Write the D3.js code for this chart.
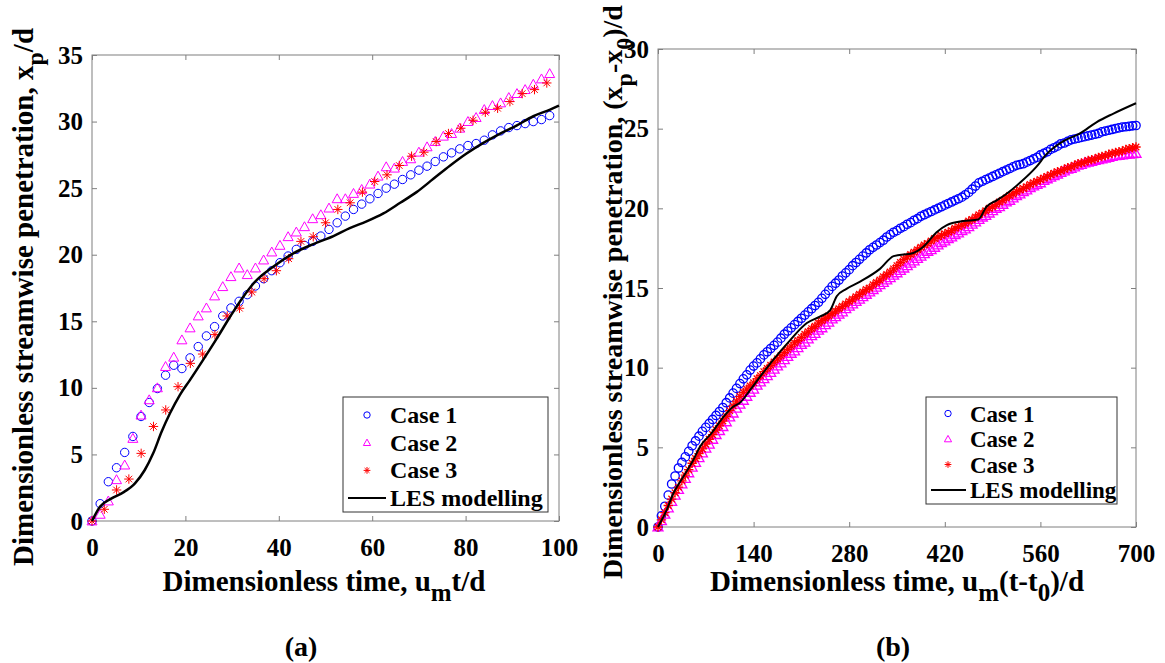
<!DOCTYPE html>
<html>
<head>
<meta charset="utf-8">
<script src="https://cdn.jsdelivr.net/npm/d3@7"></script>
<style>
  body { margin: 0; background: #fff; }
</style>
</head>
<body>
<svg id="fig" width="1165" height="663"></svg>
<script>
// ---- panel (a) data ----
const ticksXa = [0, 20, 40, 60, 80, 100];
const ticksYa = [0, 5, 10, 15, 20, 25, 30, 35];

// sampling times of the measured cases (every ~1.75 for case 1/2, ~2.63 for case 3)
const timeCase12a = d3.range(0, 98.1, 1.75);
const timeCase3a = d3.range(0, 97.5, 2.632);

const case1a = [0, 1.3, 2.95, 4.0, 5.15, 6.35, 7.85, 8.9, 9.95, 10.95, 11.7, 11.45, 12.25, 13.1, 13.9,
  14.6, 15.4, 16.0, 16.5, 17.0, 17.65, 18.2, 18.8, 19.4, 19.9, 20.4, 20.7, 21.0, 21.4, 21.9,
  22.4, 22.9, 23.4, 23.8, 24.2, 24.6, 25.0, 25.3, 25.65, 26.0, 26.35, 26.65, 27.0, 27.35, 27.65,
  27.95, 28.2, 28.35, 28.6, 29.0, 29.3, 29.55, 29.7, 29.85, 30.0, 30.15, 30.45];
const case2a = [0, 0.5, 1.5, 3.1, 4.2, 6.2, 7.95, 9.1, 10.0, 11.6, 12.3, 13.6, 14.5, 15.4, 16.0,
  16.9, 17.6, 18.35, 19.0, 18.5, 19.0, 19.6, 20.2, 20.7, 21.35, 21.7, 22.1, 22.7, 23.0, 23.5,
  24.2, 24.2, 24.6, 24.9, 25.3, 25.9, 26.6, 26.5, 27.0, 27.2, 27.7, 28.1, 28.5, 28.9, 29.1,
  29.5, 30.0, 30.3, 30.9, 31.2, 31.4, 31.8, 32.1, 32.4, 32.8, 33.2, 33.6];
const case3a = [0, 0.88, 2.33, 3.15, 5.08, 7.1, 8.34, 10.09, 11.84, 12.54, 14.0, 15.4, 15.98, 17.2,
  18.2, 18.8, 19.7, 21.0, 21.35, 22.4, 23.4, 23.9, 24.7, 25.5, 26.0, 26.7, 27.4, 27.7, 28.5,
  29.1, 29.5, 30.1, 30.7, 31.0, 31.5, 32.1, 32.4, 32.9];
const lesTimeA = [0, 1.7, 4.2, 6.7, 9.2, 11.3, 13.1, 14.9, 16.7, 18.8, 21, 23.8, 26.7, 29.5, 32.4,
  35, 38.8, 43.1, 47.4, 51.7, 55.2, 58.8, 62.4, 66, 69.5, 73.1, 76.7, 80.2, 83.8, 87.4, 90.9, 94.5, 98.1, 100];
const lesValA = [0, 1.07, 1.7, 2.15, 2.83, 3.83, 5.08, 6.7, 8.09, 9.46, 10.6, 12.1, 13.7, 15.3, 16.85,
  18.0, 19.1, 20.1, 20.8, 21.4, 22.0, 22.5, 23.1, 23.9, 24.7, 25.7, 26.7, 27.6, 28.4, 29.1, 29.7, 30.4, 30.9, 31.2];

// ---- panel (b) data ----
const ticksXb = [0, 140, 280, 420, 560, 700];
const ticksYb = [0, 5, 10, 15, 20, 25, 30];
const timeB = d3.range(0, 701, 5);

const case1b = [
  0, 0.7, 1.3, 2.0, 2.7, 3.2, 3.7, 4.05, 4.4, 4.75,
  5.1, 5.4, 5.7, 6.0, 6.25, 6.5, 6.75, 7.0, 7.25, 7.5,
  7.8, 8.1, 8.4, 8.7, 9.0, 9.3, 9.55, 9.85, 10.1, 10.3,
  10.55, 10.8, 11.0, 11.2, 11.4, 11.6, 11.85, 12.1, 12.3, 12.5,
  12.7, 12.9, 13.1, 13.3, 13.5, 13.7, 13.9, 14.1, 14.35, 14.6,
  14.85, 15.1, 15.3, 15.5, 15.75, 15.95, 16.15, 16.4, 16.6, 16.8,
  17.0, 17.2, 17.4, 17.55, 17.7, 17.85, 18.0, 18.2, 18.35, 18.5,
  18.6, 18.75, 18.85, 19.0, 19.1, 19.25, 19.35, 19.5, 19.6, 19.7,
  19.8, 19.9, 20.0, 20.1, 20.2, 20.3, 20.4, 20.5, 20.6, 20.7,
  20.85, 21.0, 21.2, 21.4, 21.6, 21.7, 21.8, 21.9, 22.0, 22.1,
  22.2, 22.3, 22.4, 22.5, 22.6, 22.7, 22.75, 22.8, 22.9, 23.0,
  23.1, 23.2, 23.35, 23.45, 23.55, 23.7, 23.8, 23.9, 24.05, 24.1,
  24.2, 24.3, 24.35, 24.4, 24.45, 24.5, 24.55, 24.6, 24.65, 24.7,
  24.8, 24.85, 24.9, 24.95, 25.0, 25.05, 25.1, 25.12, 25.15, 25.18,
  25.2];
const case2b = [
  0, 0.4, 0.8, 1.2, 1.6, 2.0, 2.35, 2.7, 3.05, 3.4,
  3.75, 4.05, 4.35, 4.65, 4.95, 5.2, 5.5, 5.8, 6.05, 6.3,
  6.6, 6.9, 7.15, 7.45, 7.7, 7.95, 8.2, 8.45, 8.65, 8.9,
  9.1, 9.3, 9.5, 9.7, 9.9, 10.1, 10.3, 10.5, 10.7, 10.9,
  11.05, 11.25, 11.45, 11.6, 11.8, 12.0, 12.15, 12.35, 12.5, 12.7,
  12.85, 13.05, 13.2, 13.35, 13.5, 13.7, 13.85, 14.0, 14.15, 14.3,
  14.45, 14.6, 14.75, 14.9, 15.05, 15.2, 15.35, 15.5, 15.65, 15.8,
  15.95, 16.1, 16.25, 16.4, 16.55, 16.7, 16.85, 17.0, 17.15, 17.3,
  17.4, 17.55, 17.7, 17.85, 17.95, 18.1, 18.2, 18.35, 18.45, 18.6,
  18.7, 18.85, 19.0, 19.15, 19.3, 19.45, 19.55, 19.7, 19.85, 20.0,
  20.1, 20.25, 20.4, 20.5, 20.65, 20.8, 20.9, 21.05, 21.15, 21.3,
  21.4, 21.5, 21.6, 21.75, 21.85, 21.95, 22.05, 22.15, 22.25, 22.35,
  22.45, 22.5, 22.6, 22.7, 22.75, 22.85, 22.9, 22.95, 23.0, 23.05,
  23.1, 23.15, 23.2, 23.25, 23.3, 23.32, 23.35, 23.38, 23.4, 23.43,
  23.45];
const case3b = [
  0, 0.45, 0.9, 1.35, 1.75, 2.15, 2.5, 2.9, 3.25, 3.6,
  4.0, 4.3, 4.6, 4.9, 5.2, 5.5, 5.8, 6.1, 6.35, 6.65,
  6.95, 7.3, 7.6, 7.9, 8.2, 8.45, 8.65, 8.85, 9.05, 9.3,
  9.5, 9.75, 9.95, 10.15, 10.35, 10.55, 10.75, 10.95, 11.15, 11.35,
  11.55, 11.7, 11.9, 12.1, 12.25, 12.45, 12.6, 12.8, 12.95, 13.1,
  13.25, 13.4, 13.55, 13.7, 13.85, 14.0, 14.15, 14.3, 14.45, 14.6,
  14.75, 14.9, 15.0, 15.2, 15.35, 15.5, 15.7, 15.85, 16.0, 16.2,
  16.4, 16.6, 16.8, 16.95, 17.1, 17.25, 17.4, 17.55, 17.7, 17.8,
  17.95, 18.1, 18.2, 18.3, 18.4, 18.5, 18.6, 18.75, 18.85, 18.95,
  19.05, 19.2, 19.3, 19.45, 19.6, 19.7, 19.85, 20.0, 20.1, 20.25,
  20.4, 20.5, 20.65, 20.8, 20.9, 21.05, 21.15, 21.25, 21.35, 21.5,
  21.6, 21.7, 21.8, 21.9, 22.0, 22.1, 22.2, 22.3, 22.35, 22.45,
  22.55, 22.6, 22.7, 22.8, 22.85, 22.9, 23.0, 23.05, 23.1, 23.2,
  23.25, 23.3, 23.4, 23.45, 23.5, 23.55, 23.6, 23.7, 23.75, 23.8,
  23.85];
const lesTimeB = [0, 12.7, 22.4, 37, 51.7, 61.5, 78.6, 95.6, 110, 120, 135, 149, 169, 193, 218, 237,
  252, 262, 276, 296, 325, 345, 374, 389, 408, 423, 447, 469, 481, 496, 510, 530, 554, 569, 593,
  618, 642, 667, 700];
const lesValB = [0, 1.07, 2.1, 3.15, 4.2, 5.04, 5.9, 6.9, 7.55, 7.8, 8.6, 9.4, 10.5, 11.7, 12.8, 13.2,
  13.6, 14.5, 14.95, 15.4, 16.2, 17.0, 17.2, 17.6, 18.5, 18.95, 19.2, 19.3, 20.1, 20.5, 20.9, 21.6,
  22.6, 23.4, 24.2, 24.7, 25.4, 25.95, 26.6];

const legendNames = ["Case 1", "Case 2", "Case 3", "LES modelling"];

const svg = d3.select("#fig");
const gray = "#7f7f7f";
const FONT = "'Liberation Serif'";

// marker shapes, MATLAB-like
function trianglePath(r) {
  return `M0,${-r}L${r},${r * 0.78}L${-r},${r * 0.78}Z`;
}
function starPath(r) {
  const a = r * 0.7;
  return `M${-r},0L${r},0M0,${-r}L0,${r}M${-a},${-a}L${a},${a}M${-a},${a}L${a},${-a}`;
}

function drawMarkers(g, kind, xs, ys, x, y, size, sw) {
  const pts = ys.map((v, i) => [xs[i], v]);
  if (kind === "circle") {
    g.append("g").selectAll("circle")
      .data(pts).join("circle")
      .attr("cx", d => x(d[0])).attr("cy", d => y(d[1]))
      .attr("r", size)
      .attr("fill", "none").attr("stroke", "#0000ff").attr("stroke-width", sw);
  } else {
    g.append("g").selectAll("path")
      .data(pts).join("path")
      .attr("transform", d => `translate(${x(d[0])},${y(d[1])})`)
      .attr("d", kind === "tri" ? trianglePath(size) : starPath(size))
      .attr("fill", "none")
      .attr("stroke", kind === "tri" ? "#ff00ff" : "#ff0000")
      .attr("stroke-width", sw);
  }
}

function drawPanel(p) {
  const x = d3.scaleLinear().domain(p.xDomain).range([p.left, p.right]);
  const y = d3.scaleLinear().domain(p.yDomain).range([p.bottom, p.top]);
  const g = svg.append("g");

  // frame
  g.append("rect")
    .attr("x", p.left).attr("y", p.top)
    .attr("width", p.right - p.left).attr("height", p.bottom - p.top)
    .attr("fill", "none").attr("stroke", gray).attr("stroke-width", 1);

  g.append("g").attr("transform", `translate(0,${p.bottom})`)
    .call(d3.axisBottom(x).tickValues(p.xTicks).tickSizeInner(-5).tickSizeOuter(0).tickPadding(17));
  g.append("g").attr("transform", `translate(${p.left},0)`)
    .call(d3.axisLeft(y).tickValues(p.yTicks).tickSizeInner(-5).tickSizeOuter(0).tickPadding(9));
  g.append("g").attr("transform", `translate(0,${p.top})`)
    .call(d3.axisTop(x).tickValues(p.xTicks).tickSizeInner(-5).tickSizeOuter(0).tickFormat(""));
  g.append("g").attr("transform", `translate(${p.right},0)`)
    .call(d3.axisRight(y).tickValues(p.yTicks).tickSizeInner(-5).tickSizeOuter(0).tickFormat(""));

  g.selectAll(".domain").remove();
  g.selectAll(".tick line").attr("stroke", gray);
  g.selectAll(".tick text").style("font-size", "25px").attr("fill", "#000");

  // series
  drawMarkers(g, "circle", p.t12, p.case1, x, y, p.mSize, p.mStroke);
  drawMarkers(g, "tri", p.t12, p.case2, x, y, p.mSize + 0.8, p.mStroke);
  drawMarkers(g, "star", p.t3, p.case3, x, y, p.mSize + 0.5, p.mStroke);

  const line = d3.line()
    .x((d, i) => x(p.lesT[i]))
    .y(d => y(d))
    .curve(d3.curveMonotoneX);
  g.append("path")
    .datum(p.lesV)
    .attr("d", line)
    .attr("fill", "none")
    .attr("stroke", "#000")
    .attr("stroke-width", p.lineW);

  // legend
  const L = p.legend;
  g.append("rect")
    .attr("x", L.x).attr("y", L.y).attr("width", L.w).attr("height", L.h)
    .attr("fill", "#fff").attr("stroke", "#333").attr("stroke-width", 1);
  legendNames.forEach((name, i) => {
    const cy = L.y + L.first + i * L.step;
    if (i === 0) {
      g.append("circle").attr("cx", L.mx).attr("cy", cy).attr("r", 3.2)
        .attr("fill", "none").attr("stroke", "#0000ff");
    } else if (i === 1) {
      g.append("path").attr("transform", `translate(${L.mx},${cy})`).attr("d", trianglePath(3.6))
        .attr("fill", "none").attr("stroke", "#ff00ff");
    } else if (i === 2) {
      g.append("path").attr("transform", `translate(${L.mx},${cy})`).attr("d", starPath(3.4))
        .attr("fill", "none").attr("stroke", "#ff0000");
    } else {
      g.append("line").attr("x1", L.x + 5).attr("x2", L.tx - 4)
        .attr("y1", cy).attr("y2", cy).attr("stroke", "#000").attr("stroke-width", 2);
    }
    g.append("text").attr("x", L.tx).attr("y", cy + 8)
      .style("font-size", L.font + "px").text(name);
  });

  // x title
  const xt = g.append("text")
    .attr("x", p.xTitleX).attr("y", 591)
    .attr("text-anchor", "middle")
    .style("font-size", "29px");
  p.xTitle.forEach(s => {
    xt.append("tspan").attr("dy", s.dy || 0)
      .style("font-size", s.sub ? "25px" : null).text(s.t);
  });

  // y title
  const yt = g.append("text")
    .attr("transform", `translate(${p.yTitleX},${p.yTitleY}) rotate(-90)`)
    .attr("text-anchor", "middle")
    .style("font-size", p.yTitleSize + "px");
  p.yTitle.forEach(s => {
    yt.append("tspan").attr("dy", s.dy || 0)
      .style("font-size", s.sub ? "24px" : null).text(s.t);
  });

  // panel label
  g.append("text").attr("x", p.labelX).attr("y", 656)
    .attr("text-anchor", "middle").style("font-size", "28px").text(p.label);
}

drawPanel({
  left: 92, right: 559, top: 55, bottom: 521,
  xDomain: [0, 100], yDomain: [0, 35], xTicks: ticksXa, yTicks: ticksYa,
  t12: timeCase12a, t3: timeCase3a,
  case1: case1a, case2: case2a, case3: case3a,
  lesT: lesTimeA, lesV: lesValA,
  mSize: 4.2, mStroke: 1, lineW: 2.5,
  legend: { x: 343, y: 397, w: 205, h: 115, first: 18, step: 27.7, mx: 367, tx: 390, font: 24 },
  xTitleX: 324, xTitle: [{ t: "Dimensionless time, u" }, { t: "m", sub: true, dy: 10 }, { t: "t/d", dy: -10 }],
  yTitleX: 33, yTitleY: 297, yTitleSize: 29,
  yTitle: [{ t: "Dimensionless streamwise penetration, x" }, { t: "p", sub: true, dy: 10 }, { t: "/d", dy: -10 }],
  labelX: 301, label: "(a)"
});

drawPanel({
  left: 658, right: 1136, top: 49, bottom: 527,
  xDomain: [0, 700], yDomain: [0, 30], xTicks: ticksXb, yTicks: ticksYb,
  t12: timeB, t3: timeB,
  case1: case1b, case2: case2b, case3: case3b,
  lesT: lesTimeB, lesV: lesValB,
  mSize: 4.2, mStroke: 1.3, lineW: 2,
  legend: { x: 926, y: 397, w: 191, h: 107, first: 16.5, step: 25.5, mx: 948, tx: 970, font: 23 },
  xTitleX: 897, xTitle: [{ t: "Dimensionless time, u" }, { t: "m", sub: true, dy: 10 }, { t: "(t-t", dy: -10 }, { t: "0", sub: true, dy: 10 }, { t: ")/d", dy: -10 }],
  yTitleX: 622, yTitleY: 292, yTitleSize: 28,
  yTitle: [{ t: "Dimensionless streamwise penetration, (x" }, { t: "p", sub: true, dy: 10 }, { t: "-x", dy: -10 }, { t: "0", sub: true, dy: 10 }, { t: ")/d", dy: -10 }],
  labelX: 893, label: "(b)"
});

// one serif face for every label
svg.selectAll("text")
  .style("font-family", FONT)
  .style("font-weight", "bold")
  .attr("fill", "#000");
</script>
</body>
</html>
